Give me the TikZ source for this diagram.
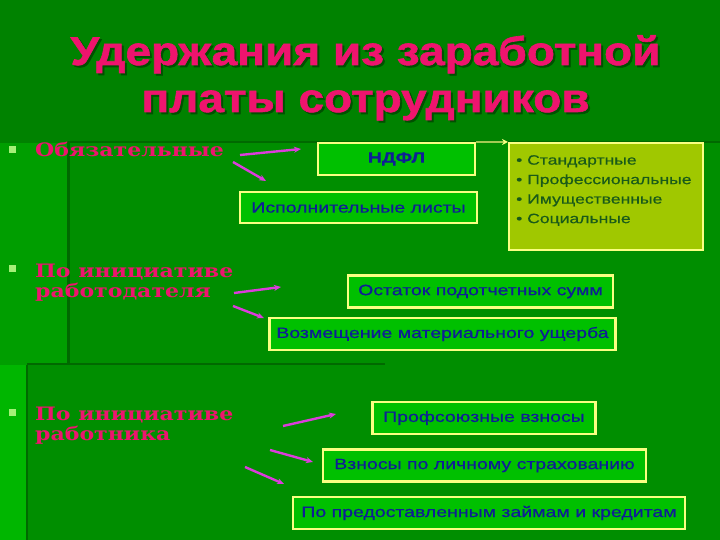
\documentclass[tikz,border=0pt]{standalone}
\usepackage{fontspec}
\setmainfont{Liberation Sans}
\newfontfamily\titlefont{Liberation Sans}[FakeStretch=1.15,FakeBold=1.5]
\newfontfamily\boxfont{Liberation Sans}[FakeStretch=1.3,FakeBold=0.5]
\newfontfamily\sidefont{DejaVu Serif}[FakeStretch=1.19]
\usetikzlibrary{arrows.meta}
\definecolor{bgtop}{RGB}{0,130,0}
\definecolor{bgpanel}{RGB}{0,142,0}
\definecolor{bgleft}{RGB}{0,158,0}
\definecolor{bgleftb}{RGB}{0,182,0}
\definecolor{darkline}{RGB}{0,105,0}
\definecolor{boxfill}{RGB}{0,192,0}
\definecolor{boxline}{RGB}{250,255,130}
\definecolor{boxtext}{RGB}{15,30,150}
\definecolor{olive}{RGB}{160,200,0}
\definecolor{olivetext}{RGB}{25,90,25}
\definecolor{pinktxt}{RGB}{238,20,110}
\definecolor{shadowc}{RGB}{0,80,0}
\definecolor{arrowc}{RGB}{220,60,220}
\definecolor{bulletc}{RGB}{165,240,120}
\tikzset{
  greenbox/.style={draw=boxline, line width=2.2pt, fill=boxfill, inner sep=0pt,
    font=\boxfont\fontsize{15}{17}\selectfont, text=boxtext},
  titletext/.style={font=\titlefont\bfseries\fontsize{40}{44}\selectfont, anchor=base, inner sep=0pt},
  sidetext/.style={font=\sidefont\bfseries\fontsize{18.5}{20}\selectfont, anchor=base west, inner sep=0pt, text=pinktxt},
  pinkarrow/.style={draw=arrowc, line width=2.4pt, -{Stealth[length=7pt,width=6pt]}},
  sqbullet/.style={fill=bulletc, minimum size=7pt, inner sep=0pt}
}
\begin{document}
\begin{tikzpicture}[x=1pt,y=-1pt]
\useasboundingbox (0,0) rectangle (720,540);
% background
\fill[bgtop] (0,0) rectangle (720,540);
\fill[bgleft] (0,143) rectangle (67,540);
\fill[bgleftb] (0,365) rectangle (27,540);
\fill[bgpanel] (67,143) rectangle (720,365);
\fill[bgpanel] (27,365) rectangle (720,540);
\draw[darkline, line width=3pt] (68,143) -- (68,364);
\draw[darkline, line width=2pt] (27,365) -- (27,540);
\draw[darkline, line width=2.5pt] (27,364) -- (385,364);
\draw[darkline, line width=1.5pt] (67,142) -- (720,142);
% title
\node[titletext, text=shadowc] at (367.5,67) {Удержания из заработной};
\node[titletext, text=shadowc] at (367.5,114) {платы сотрудников};
\node[titletext, text=pinktxt] (t1) at (365.5,65) {Удержания из заработной};
\node[titletext, text=pinktxt] (t2) at (365.5,112) {платы сотрудников};
% bullets and side labels
\node[sqbullet] (b1) at (12,150) {};
\node[sqbullet] (b2) at (12,268) {};
\node[sqbullet] (b3) at (12.5,412.5) {};
\node[sidetext] (s1) at (35,157) {Обязательные};
\node[sidetext] (s2a) at (35,277) {По инициативе};
\node[sidetext] (s2b) at (35,297) {работодателя};
\node[sidetext] (s3a) at (35,420) {По инициативе};
\node[sidetext] (s3b) at (35,440) {работника};
% boxes
\node[greenbox, minimum width=157pt, minimum height=32pt, font=\boxfont\bfseries\fontsize{15}{17}\selectfont] (ndfl) at (396.5,159) {НДФЛ};
\node[greenbox, minimum width=237pt, minimum height=31pt] (isp) at (358.5,207.5) {Исполнительные листы};
\node[draw=boxline, line width=2pt, fill=olive, minimum width=194pt, minimum height=107pt, inner sep=0pt] (vych) at (606,196.5) {};
\node[anchor=north west, inner sep=0pt, text=olivetext, font=\boxfont\fontsize{13.5}{19.5}\selectfont, align=left] (vtext) at (516,155)
  {• Стандартные\\• Профессиональные\\• Имущественные\\• Социальные};
\node[greenbox, minimum width=265pt, minimum height=32pt] (ost) at (480.5,291.5) {Остаток подотчетных сумм};
\node[greenbox, minimum width=346pt, minimum height=32pt] (voz) at (442.5,334) {Возмещение материального ущерба};
\node[greenbox, minimum width=223pt, minimum height=32pt] (prof) at (484,418) {Профсоюзные взносы};
\node[greenbox, minimum width=323pt, minimum height=32pt] (vzn) at (484.5,465.5) {Взносы по личному страхованию};
\node[greenbox, minimum width=392pt, minimum height=32pt] (zaim) at (489,513) {По предоставленным займам и кредитам};
% connector ndfl -> vych
\draw[draw=boxline, line width=1.2pt, -{Stealth[length=6pt,width=6pt]}] (ndfl.north east) -- (vych.north west);
% pink arrows
\coordinate (a1s) at (240,155); \coordinate (a1e) at (301,149);
\coordinate (a2s) at (233,162); \coordinate (a2e) at (266,181);
\coordinate (a3s) at (234,293); \coordinate (a3e) at (281,287);
\coordinate (a4s) at (233,306); \coordinate (a4e) at (264,318);
\coordinate (a5s) at (283,426); \coordinate (a5e) at (336,414);
\coordinate (a6s) at (270,450); \coordinate (a6e) at (313,462);
\coordinate (a7s) at (245,467); \coordinate (a7e) at (284,484);
\foreach \s/\e in {a1s/a1e,a2s/a2e,a3s/a3e,a4s/a4e,a5s/a5e,a6s/a6e,a7s/a7e}
  \draw[pinkarrow] (\s) -- (\e);
\end{tikzpicture}
\end{document}
